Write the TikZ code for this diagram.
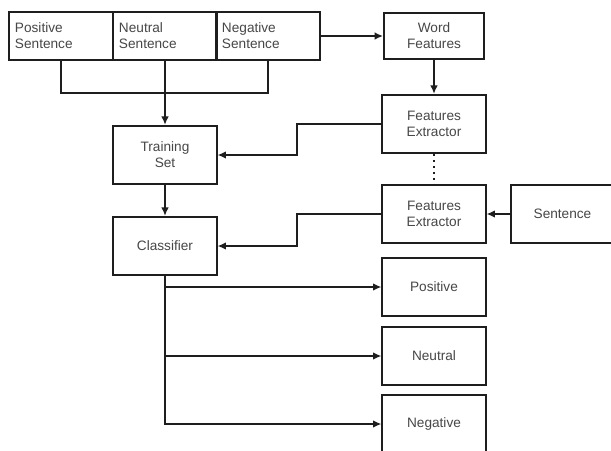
\documentclass[tikz,border=0pt]{standalone}
\usepackage{fontspec}
\setmainfont{Liberation Sans}
\usetikzlibrary{arrows.meta}
\definecolor{ink}{HTML}{1E1E1E}
\definecolor{txt}{HTML}{474747}
\tikzset{
  box/.style={draw=ink,line width=1.3pt,text=txt,align=center,
    minimum width=2.58cm,minimum height=1.46cm,inner sep=0pt},
  sentbox/.style={box,align=left,text width=2.3cm,minimum height=1.2cm,
    inner xsep=0.15cm},
  link/.style={ink,line width=1.4pt},
  arr/.style={link,-{Latex[length=2.1mm,width=1.9mm]}},
}
\begin{document}
\begin{tikzpicture}[x=0.025cm,y=-0.025cm,font=\fontsize{9.7}{11.3}\selectfont]
\clip (0,0) rectangle (611,450);
\fill[white] (0,0) rectangle (611,450);

% ---------------------------------------------------------------- boxes
\node[sentbox] (pos) at (61,36)  {Positive\\Sentence};
\node[sentbox] (neu) at (165,36) {Neutral\\Sentence};
\node[sentbox] (neg) at (268,36) {Negative\\Sentence};
\node[box,minimum width=2.5cm,minimum height=1.13cm] (word) at (434,36) {Word\\Features};
\node[box] (fe1) at (434,124) {Features\\Extractor};
\node[box] (fe2) at (434,214) {Features\\Extractor};
\node[box] (sent) at (562.5,214) {Sentence};
\node[box] (train) at (165,155) {Training\\Set};
\node[box] (cls) at (165,246) {Classifier};
\node[box] (posout) at (434,287) {Positive};
\node[box] (neuout) at (434,356) {Neutral};
\node[box] (negout) at (434,424) {Negative};

% ---------------------------------------------------------------- connectors
\coordinate (merge) at (165,93);
\draw[link] (pos.south) |- (merge) -| (neg.south);
\draw[arr] (neu.south) -- (train.north);
\draw[arr] (neg.east) -- (word.west);
\draw[arr] (word.south) -- (fe1.north);
\draw[link,dash pattern=on 1.6pt off 2.6pt] (fe1.south) -- (fe2.north);
\draw[arr] (sent.west) -- (fe2.east);
\draw[arr] (fe1.west) -- ++(-84,0) |- (train.east);
\draw[arr] (fe2.west) -- ++(-84,0) |- (cls.east);
\draw[arr] (train.south) -- (cls.north);
\draw[arr] (cls.south) |- (posout.west);
\draw[arr] (cls.south) |- (neuout.west);
\draw[arr] (cls.south) |- (negout.west);

\end{tikzpicture}
\end{document}
